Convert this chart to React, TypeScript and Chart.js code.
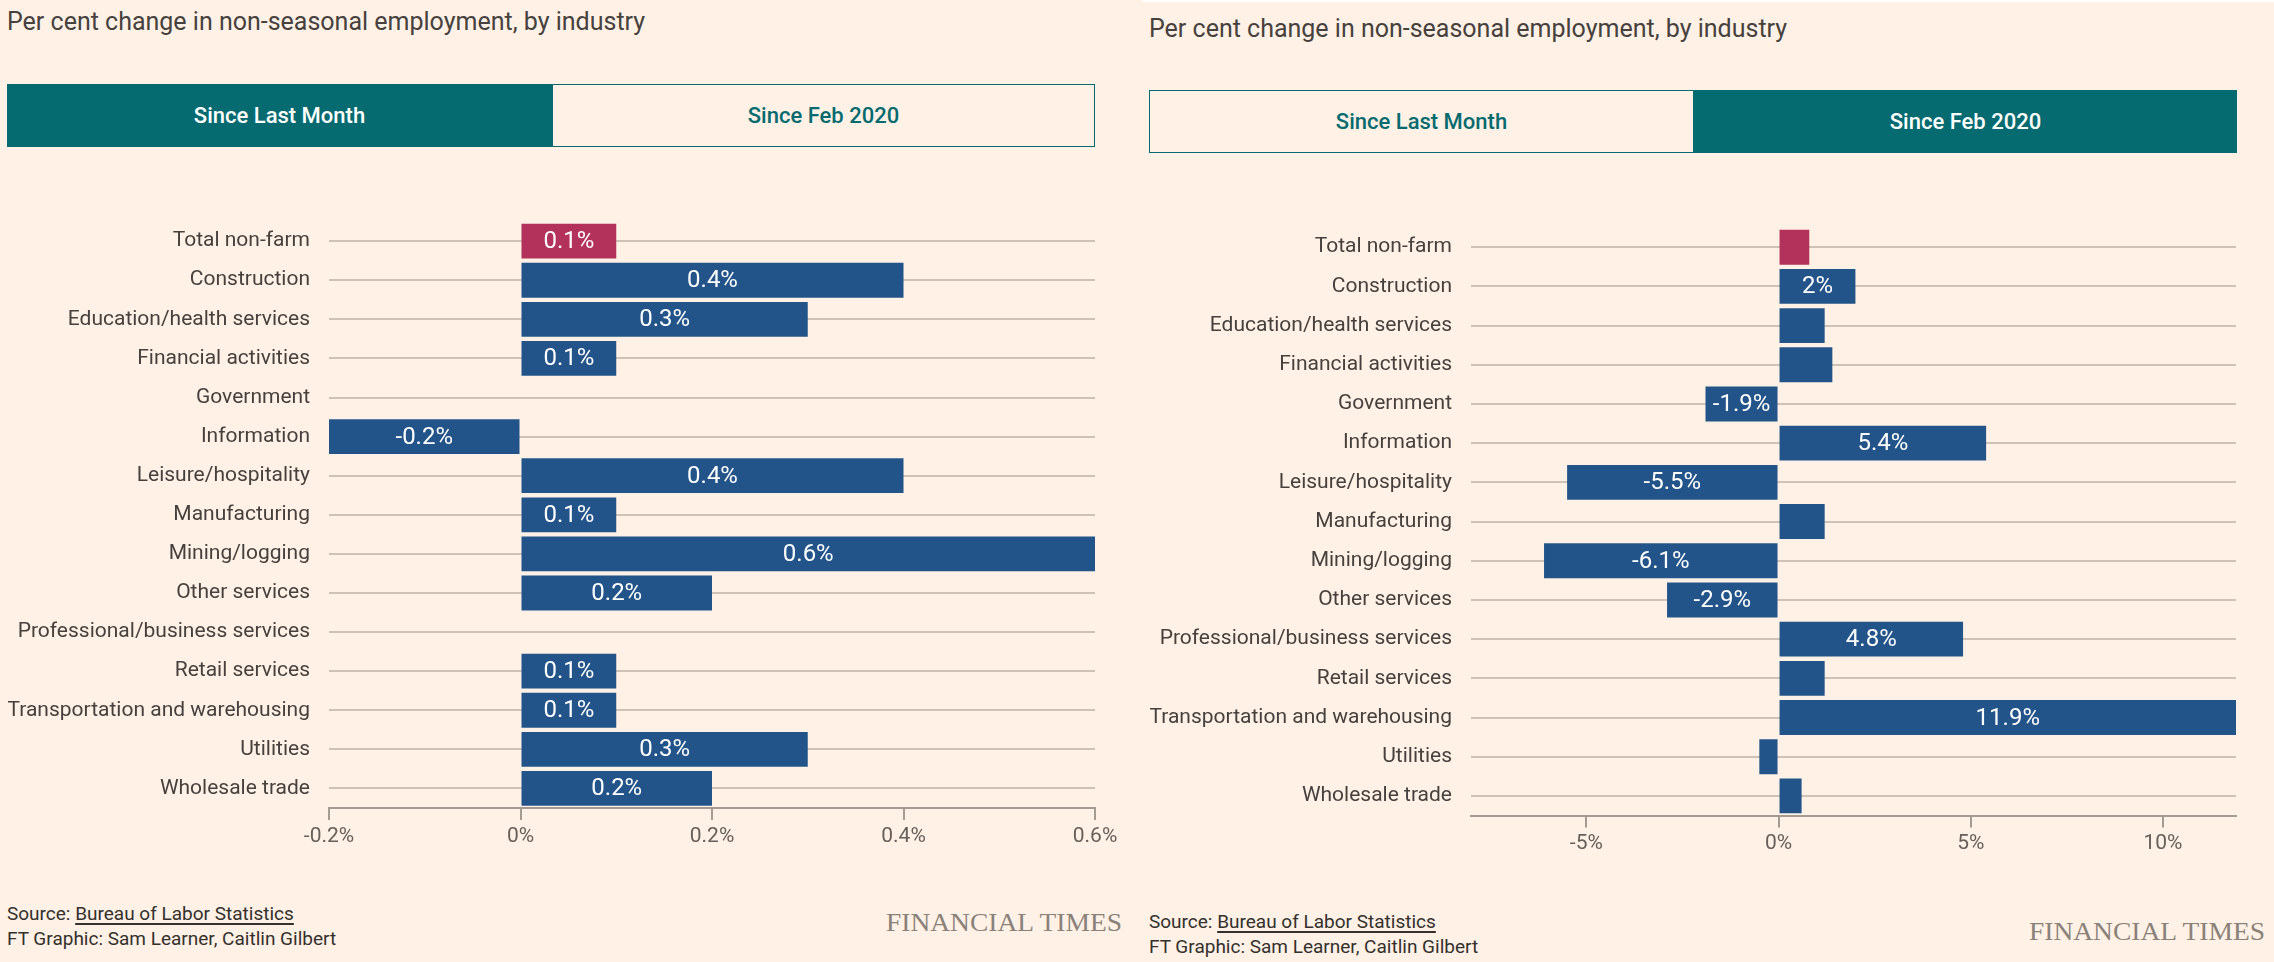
import React, { useEffect, useRef } from "react";
import { Chart, registerables } from "chart.js";

Chart.register(...registerables);

// ---------- data ----------
const categories = [
  "Total non-farm",
  "Construction",
  "Education/health services",
  "Financial activities",
  "Government",
  "Information",
  "Leisure/hospitality",
  "Manufacturing",
  "Mining/logging",
  "Other services",
  "Professional/business services",
  "Retail services",
  "Transportation and warehousing",
  "Utilities",
  "Wholesale trade",
];

const sinceLastMonth = [0.1, 0.4, 0.3, 0.1, 0, -0.2, 0.4, 0.1, 0.6, 0.2, 0, 0.1, 0.1, 0.3, 0.2];
const sinceFeb2020 = [0.8, 2.0, 1.2, 1.4, -1.9, 5.4, -5.5, 1.2, -6.1, -2.9, 4.8, 1.2, 11.9, -0.5, 0.6];

const lastMonthTicks = [-0.2, 0, 0.2, 0.4, 0.6];
const febTicks = [-5, 0, 5, 10];

const lastMonthRange = [-0.2, 0.6];
const febRange = [-8, 11.9];

const titleText = "Per cent change in non-seasonal employment, by industry";
const toggleLabels = ["Since Last Month", "Since Feb 2020"];
const sourceLabel = "Source: ";
const sourceLink = "Bureau of Labor Statistics";
const creditText = "FT Graphic: Sam Learner, Caitlin Gilbert";
const brandText = "FINANCIAL TIMES";

// ---------- styles ----------
const BG = "#fff1e5";
const BLUE = "#22548a";
const PINK = "#b3325b";
const TEAL = "#066b70";
const GRID = "#cec2b7";
const AXIS = "#a39a92";
const TEXT = "#46413e";
const TICK_TEXT = "#66605c";
const FONT = "Roboto, 'Liberation Sans', sans-serif";

const fmt = (v: number) => `${+v.toFixed(1)}%`;

const barLabelPlugin = {
  id: "barLabels",
  afterDatasetsDraw(chart: any, _args: any, opts: any) {
    const meta = chart.getDatasetMeta(0);
    const data = chart.data.datasets[0].data as number[];
    const ctx = chart.ctx;
    ctx.save();
    ctx.font = `400 24px ${FONT}`;
    ctx.fillStyle = "#ffffff";
    ctx.textAlign = "center";
    ctx.textBaseline = "middle";
    meta.data.forEach((bar: any, i: number) => {
      const v = data[i];
      if (Math.abs(v) < opts.minAbs) return;
      const p = bar.getProps(["x", "base", "y"], true);
      ctx.fillText(fmt(v), (p.x + p.base) / 2, p.y + 1);
    });
    ctx.restore();
  },
};

type PanelProps = {
  values: number[];
  ticks: number[];
  range: number[];
  minLabel: number;
  canvas: { left: number; top: number; width: number; height: number };
  plot: { left: number; right: number; top: number; bottom: number };
};

function BarChart({ values, ticks, range, minLabel, canvas, plot }: PanelProps) {
  const ref = useRef<HTMLCanvasElement | null>(null);
  useEffect(() => {
    if (!ref.current) return;
    const yWidth = plot.left - canvas.left;
    const xHeight = canvas.top + canvas.height - plot.bottom;
    const chart = new Chart(ref.current, {
      type: "bar",
      data: {
        labels: categories,
        datasets: [
          {
            data: values,
            backgroundColor: values.map((_, i) => (i === 0 ? PINK : BLUE)),
            borderWidth: 0,
            barPercentage: 0.89,
            categoryPercentage: 1,
          },
        ],
      },
      plugins: [barLabelPlugin],
      options: {
        indexAxis: "y",
        animation: false,
        responsive: false,
        maintainAspectRatio: false,
        devicePixelRatio: 1,
        layout: {
          padding: {
            left: 0,
            right: canvas.left + canvas.width - plot.right,
            top: plot.top - canvas.top,
            bottom: 0,
          },
        },
        plugins: {
          legend: { display: false },
          tooltip: { enabled: false },
          barLabels: { minAbs: minLabel },
        } as any,
        scales: {
          y: {
            type: "category",
            offset: true,
            grid: { offset: false, color: GRID, lineWidth: 2, drawTicks: false },
            border: { display: false },
            ticks: { padding: 19, color: TEXT, font: { family: FONT, size: 21 } },
            afterFit: (s: any) => {
              s.width = yWidth;
            },
          },
          x: {
            type: "linear",
            min: range[0],
            max: range[1],
            afterBuildTicks: (s: any) => {
              s.ticks = ticks.map((v) => ({ value: v }));
            },
            grid: { drawOnChartArea: false, drawTicks: true, tickLength: 12, color: AXIS, lineWidth: 2 },
            border: { display: true, color: AXIS, width: 2 },
            ticks: {
              padding: 4,
              color: TICK_TEXT,
              autoSkip: false,
              maxRotation: 0,
              font: { family: FONT, size: 21 },
              callback: (v: any) => fmt(Number(v)),
            },
            afterFit: (s: any) => {
              s.height = xHeight;
            },
          },
        },
      } as any,
    });
    return () => chart.destroy();
  }, []);
  return (
    <canvas
      ref={ref}
      width={canvas.width}
      height={canvas.height}
      style={{ position: "absolute", left: canvas.left, top: canvas.top, width: canvas.width, height: canvas.height }}
    />
  );
}

type SideProps = {
  x: number;
  titleTop: number;
  toggle: { left: number; right: number; split: number; top: number; bottom: number };
  active: number;
  values: number[];
  ticks: number[];
  range: number[];
  minLabel: number;
  canvas: { left: number; top: number; width: number; height: number };
  plot: { left: number; right: number; top: number; bottom: number };
  sourceTop: number;
  brandRight: number;
  brandTop: number;
};

function Panel(p: SideProps) {
  const t = p.toggle;
  const halves = [
    { left: t.left, width: t.split - t.left },
    { left: t.split, width: t.right - t.split },
  ];
  return (
    <>
      <div
        style={{
          position: "absolute",
          left: p.x,
          top: p.titleTop,
          font: `400 25px ${FONT}`,
          lineHeight: "28px",
          color: TEXT,
          whiteSpace: "nowrap",
        }}
      >
        {titleText}
      </div>
      {halves.map((h, i) => (
        <div
          key={i}
          style={{
            position: "absolute",
            left: h.left,
            top: t.top,
            width: h.width,
            height: t.bottom - t.top,
            boxSizing: "border-box",
            border: `1.5px solid ${TEAL}`,
            background: i === p.active ? TEAL : "transparent",
            color: i === p.active ? "#ffffff" : TEAL,
            display: "flex",
            alignItems: "center",
            justifyContent: "center",
            font: `500 22px ${FONT}`,
          }}
        >
          {toggleLabels[i]}
        </div>
      ))}
      <BarChart
        values={p.values}
        ticks={p.ticks}
        range={p.range}
        minLabel={p.minLabel}
        canvas={p.canvas}
        plot={p.plot}
      />
      <div
        style={{
          position: "absolute",
          left: p.x,
          top: p.sourceTop,
          font: `400 19px ${FONT}`,
          lineHeight: "25px",
          color: "#33302e",
          whiteSpace: "nowrap",
        }}
      >
        <div>
          {sourceLabel}
          <span style={{ textDecoration: "underline", textDecorationThickness: "2px", textUnderlineOffset: "3px" }}>
            {sourceLink}
          </span>
        </div>
        <div>{creditText}</div>
      </div>
      <div
        style={{
          position: "absolute",
          left: p.brandRight - 300,
          width: 300,
          top: p.brandTop,
          textAlign: "right",
          font: `400 25px 'Liberation Serif', 'DejaVu Serif', serif`,
          lineHeight: "28px",
          color: "#8a827a",
          whiteSpace: "nowrap",
          transform: "scaleX(1.1)",
          transformOrigin: "right center",
        }}
      >
        {brandText}
      </div>
    </>
  );
}

export default function App() {
  useEffect(() => {
    document.body.style.margin = "0";
    document.body.style.background = BG;
  }, []);
  return (
    <div style={{ position: "absolute", left: 0, top: 0, width: 2274, height: 962, background: BG, overflow: "hidden" }}>
      <Panel
        x={7}
        titleTop={8}
        toggle={{ left: 7, right: 1095, split: 552, top: 84, bottom: 147 }}
        active={0}
        values={sinceLastMonth}
        ticks={lastMonthTicks}
        range={lastMonthRange}
        minLabel={0.05}
        canvas={{ left: 0, top: 190, width: 1137, height: 690 }}
        plot={{ left: 329, right: 1095, top: 218, bottom: 808 }}
        sourceTop={901}
        brandRight={1122}
        brandTop={909}
      />
      <div style={{ position: "absolute", left: 1142, top: 0, width: 1132, height: 2, background: "#ffffff" }} />
      <Panel
        x={1149}
        titleTop={15}
        toggle={{ left: 1149, right: 2237, split: 1694, top: 90, bottom: 153 }}
        active={1}
        values={sinceFeb2020}
        ticks={febTicks}
        range={febRange}
        minLabel={1.85}
        canvas={{ left: 1137, top: 196, width: 1137, height: 690 }}
        plot={{ left: 1471, right: 2236, top: 224, bottom: 815.5 }}
        sourceTop={909}
        brandRight={2265}
        brandTop={918}
      />
    </div>
  );
}
